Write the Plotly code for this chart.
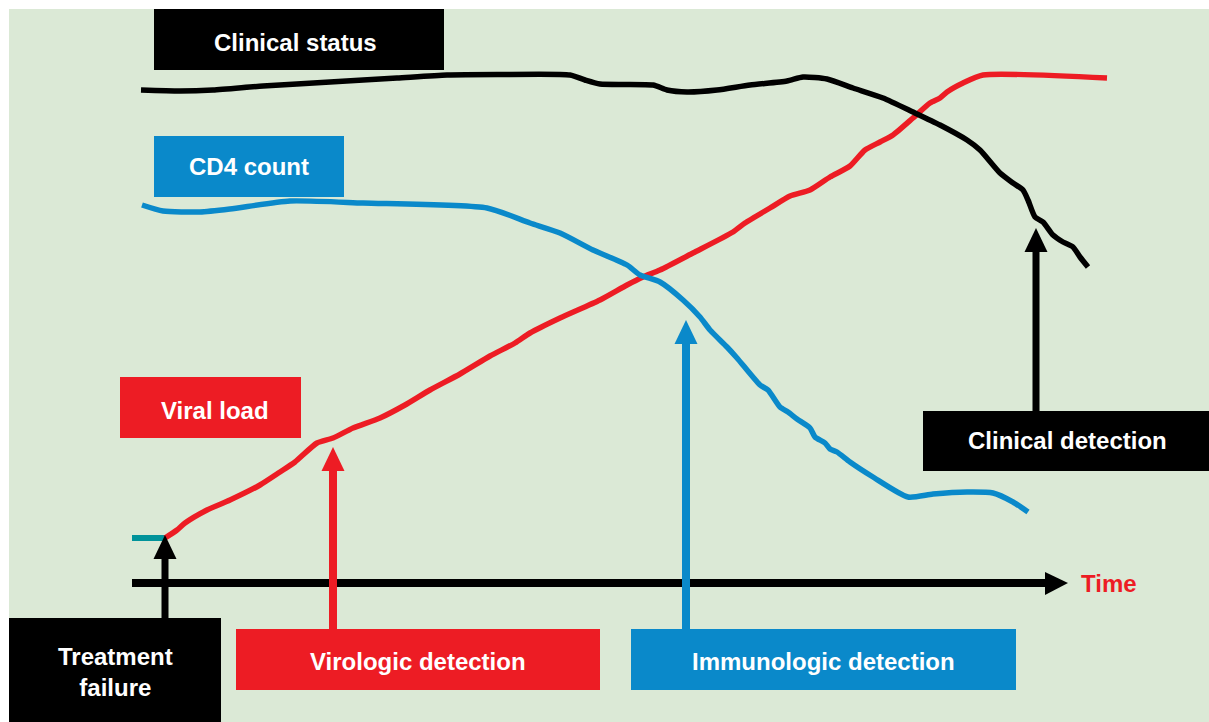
"""
Treatment failure timeline: virologic, immunologic and clinical detection.
"""

import plotly.graph_objects as go

W, H = 1209, 722

# curve points (pixel space, y grows downward)
clinical_x = [141, 180, 213, 263, 330, 397, 447, 497, 570, 585, 600, 653, 667, 687, 717, 750,
              787, 803, 827, 853, 883, 913, 940, 967, 980, 1000, 1013, 1023, 1028, 1035,
              1043, 1053, 1063, 1073, 1080, 1088]
clinical_y = [90, 91, 90, 86, 82, 78, 75, 74.5, 75, 80, 84, 85, 90, 92, 90, 85,
              81, 77, 79, 88, 98, 112, 125, 140, 150, 173, 183, 190, 200, 217,
              222, 235, 242, 247, 257, 267]

cd4_x = [142, 163, 200, 230, 290, 363, 487, 530, 560, 593, 627, 640, 660, 683, 700, 710,
         727, 737, 760, 768, 780, 788, 797, 810, 815, 825, 830, 837, 850, 873, 908, 933,
         967, 993, 1013, 1028]
cd4_y = [205, 211, 212, 209, 201, 203, 208, 223, 233, 250, 265, 275, 282, 300, 317, 330,
         347, 358, 385, 390, 407, 412, 419, 428, 437, 443, 449, 452, 462, 477, 497, 494,
         492, 493, 502, 512]

viral_x = [165, 177, 185, 207, 230, 260, 280, 295, 317, 333, 353, 380, 405, 430, 460, 490,
           515, 530, 560, 600, 627, 643, 660, 693, 733, 745, 770, 790, 810, 830, 850, 865,
           880, 893, 913, 930, 940, 947, 963, 983, 1107]
viral_y = [538, 530, 523, 510, 500, 485, 472, 462, 443, 438, 428, 418, 405, 390, 374, 356,
           343, 333, 318, 300, 285, 277, 270, 253, 232, 223, 208, 196, 190, 177, 166, 150,
           142, 135, 118, 103, 98, 92, 83, 75, 78]

baseline_x = [132, 165]
baseline_y = [538, 538]

BG = "#dbe9d6"
BLACK = "#000000"
RED = "#ed1c24"
BLUE = "#0a89ca"
TEAL = "#00939a"
FONT = "Liberation Sans, Arial, sans-serif"

fig = go.Figure()

fig.add_trace(go.Scatter(x=baseline_x, y=baseline_y, mode="lines",
                         line=dict(color=TEAL, width=6), hoverinfo="skip"))
for xs, ys, col in [(viral_x, viral_y, RED), (cd4_x, cd4_y, BLUE),
                    (clinical_x, clinical_y, BLACK)]:
    fig.add_trace(go.Scatter(x=xs, y=ys, mode="lines",
                             line=dict(color=col, width=5.5, shape="spline", smoothing=0.6),
                             hoverinfo="skip"))

shapes = [dict(type="rect", x0=9, y0=9, x1=W, y1=H, fillcolor=BG,
               line=dict(width=0), layer="below")]


def box(x0, y0, x1, y1, color):
    shapes.append(dict(type="rect", x0=x0, y0=y0, x1=x1, y1=y1,
                       fillcolor=color, line=dict(width=0), layer="above"))


def arrow_up(x, tip, bottom, color, shaft=7, head_w=23, head_h=24):
    shapes.append(dict(type="rect", x0=x - shaft / 2, x1=x + shaft / 2,
                       y0=tip + head_h - 1, y1=bottom,
                       fillcolor=color, line=dict(width=0), layer="above"))
    path = (f"M {x - head_w / 2},{tip + head_h} L {x},{tip} "
            f"L {x + head_w / 2},{tip + head_h} Z")
    shapes.append(dict(type="path", path=path, fillcolor=color,
                       line=dict(width=0), layer="above"))


# time axis
shapes.append(dict(type="rect", x0=132, x1=1046, y0=579, y1=587,
                   fillcolor=BLACK, line=dict(width=0), layer="above"))
shapes.append(dict(type="path", path="M 1045,572 L 1068,583 L 1045,595 Z",
                   fillcolor=BLACK, line=dict(width=0), layer="above"))

arrow_up(165, 535, 618, BLACK)
arrow_up(333, 447, 629, RED, shaft=8)
arrow_up(686, 320, 629, BLUE, shaft=8)
arrow_up(1036, 228, 411, BLACK)

box(154, 9, 444, 70, BLACK)
box(154, 136, 344, 197, BLUE)
box(120, 377, 301, 438, RED)
box(923, 411, W, 471, BLACK)
box(9, 618, 221, H, BLACK)
box(236, 629, 600, 690, RED)
box(631, 629, 1016, 690, BLUE)

labels = [
    ("Clinical status", 295, 42, "white"),
    ("CD4 count", 249, 166, "white"),
    ("Viral load", 215, 410, "white"),
    ("Clinical detection", 1067, 440, "white"),
    ("Treatment<br>failure", 115, 672, "white"),
    ("Virologic detection", 418, 661, "white"),
    ("Immunologic detection", 823, 661, "white"),
]
annotations = [dict(x=x, y=y, text=f"<b>{t.replace('<br>', '</b><br><b>')}</b>",
                    showarrow=False, xanchor="center", yanchor="middle",
                    font=dict(family=FONT, size=24, color=c))
               for t, x, y, c in labels]
annotations.append(dict(x=1079, y=583, text="<b>Time</b>", showarrow=False, xanchor="left",
                        yanchor="middle", font=dict(family=FONT, size=24, color=RED)))

fig.update_layout(
    width=W,
    height=H,
    margin=dict(l=0, r=0, t=0, b=0),
    paper_bgcolor="white",
    plot_bgcolor="white",
    showlegend=False,
    shapes=shapes,
    annotations=annotations,
    font=dict(family=FONT),
    xaxis=dict(range=[0, W], visible=False, fixedrange=True),
    yaxis=dict(range=[H, 0], visible=False, fixedrange=True),
)

fig.write_html("out.html", config=dict(displayModeBar=False),
               post_script="document.body.style.margin='0';")
